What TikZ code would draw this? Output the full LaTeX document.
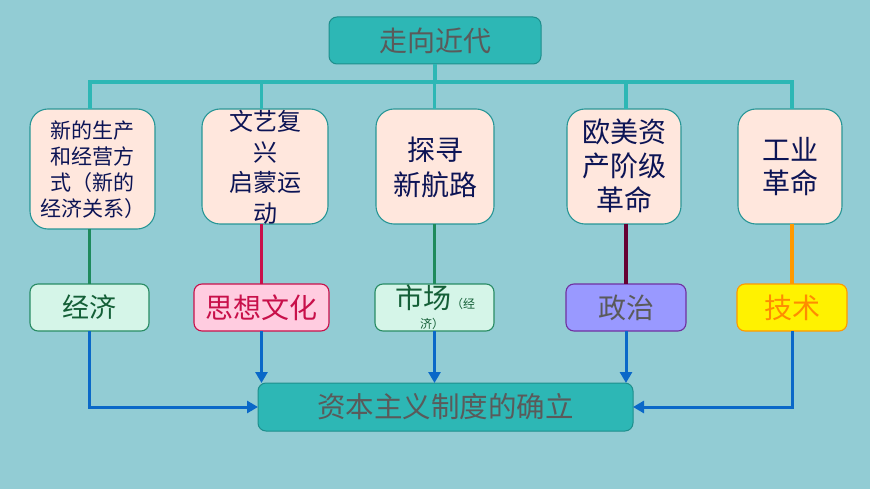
\documentclass[tikz,border=0pt]{standalone}
\usepackage{fontspec}
\setmainfont{Noto Sans CJK SC}
\usetikzlibrary{arrows.meta,calc}
\definecolor{bg}{RGB}{146,204,212}
\definecolor{tealfill}{RGB}{45,183,181}
\definecolor{tealborder}{RGB}{30,142,140}
\definecolor{peach}{RGB}{255,231,221}
\definecolor{peachborder}{RGB}{40,150,150}
\definecolor{navy}{RGB}{12,20,85}
\definecolor{graytext}{RGB}{90,90,90}
\definecolor{mgreenfill}{RGB}{213,245,232}
\definecolor{mgreenborder}{RGB}{40,140,100}
\definecolor{mgreentext}{RGB}{20,95,55}
\definecolor{linkgreen}{RGB}{30,138,92}
\definecolor{pinkfill}{RGB}{255,204,224}
\definecolor{crimson}{RGB}{200,16,74}
\definecolor{violetfill}{RGB}{153,153,255}
\definecolor{violetborder}{RGB}{112,48,160}
\definecolor{maroon}{RGB}{102,0,51}
\definecolor{orangeline}{RGB}{255,153,0}
\definecolor{orangetext}{RGB}{255,140,0}
\definecolor{arrblue}{RGB}{10,104,200}
\newcommand{\fsz}[2]{\fontsize{#1pt}{#2pt}\selectfont}
\begin{document}
\begin{tikzpicture}[x=1pt,y=-1pt,
  every node/.style={inner sep=0pt, outer sep=0pt},
  tealbox/.style={draw=tealborder, fill=tealfill, rounded corners=8pt, line width=1pt, text=graytext},
  ubox/.style={draw=peachborder, fill=peach, rounded corners=18pt, line width=1.1pt, minimum height=115pt},
  utext/.style={text=navy, align=center},
  mbox/.style={rounded corners=8pt, line width=1.1pt, minimum height=47pt},
  busline/.style={draw=tealfill, line width=4pt},
  drop/.style={draw=tealfill, line width=3.5pt},
  link/.style={line width=3.3pt},
  arr/.style={draw=arrblue, line width=3pt, -{Triangle[width=12pt,length=11pt]}},
]
\fill[bg] (0,0) rectangle (870,489);
\useasboundingbox (0,0) rectangle (870,489);

% top and bottom
\node[tealbox, minimum width=212pt, minimum height=47pt, font=\fsz{28}{34}] (top) at (435,40.5) {走向近代};
\node[tealbox, minimum width=375pt, minimum height=48pt, font=\fsz{28.5}{34}] (bot) at (445.5,407) {资本主义制度的确立};

% upper boxes
\node[ubox, minimum width=125pt, minimum height=120pt] (b1) at (92.5,169) {};
\node[ubox, minimum width=126pt] (b2) at (265,166.5) {};
\node[ubox, minimum width=118pt] (b3) at (435,166.5) {};
\node[ubox, minimum width=114pt] (b4) at (624,166.5) {};
\node[ubox, minimum width=104pt] (b5) at (790,166.5) {};

\node[utext, font=\fsz{21}{26}] (b1t) at (92.5,169.5) {新的生产\\和经营方\\式（新的\\经济关系）};
\node[utext, font=\fsz{24}{30.5}] (b2t) at (265,167.5) {文艺复\\兴\\启蒙运\\动};
\node[utext, font=\fsz{28}{35}] (b3t) at (435,167) {探寻\\新航路};
\node[utext, font=\fsz{28}{34}] (b4t) at (624,166) {欧美资\\产阶级\\革命};
\node[utext, font=\fsz{28}{33}] (b5t) at (790,166.5) {工业\\革命};

% middle boxes
\node[mbox, draw=mgreenborder, fill=mgreenfill, text=mgreentext, minimum width=119pt, font=\fsz{27}{32}] (m1) at (89.5,307.5) {经济};
\node[mbox, draw=crimson, fill=pinkfill, text=crimson, minimum width=135pt, font=\fsz{28}{32}] (m2) at (261.5,307.5) {思想文化};
\node[mbox, draw=mgreenborder, fill=mgreenfill, minimum width=119pt] (m3) at (434.5,307.5) {};
\node[text=mgreentext, font=\fsz{28}{32}] (m3a) at (435,298) {市场{\fsz{12}{14}（经}};
\node[text=mgreentext, font=\fsz{12}{14}] (m3b) at (432,324) {济）};
\node[mbox, draw=violetborder, fill=violetfill, text=graytext, minimum width=120pt, font=\fsz{28}{32}] (m4) at (626,307.5) {政治};
\node[mbox, draw=orangeline, fill=yellow, text=orangetext, minimum width=110pt, font=\fsz{28}{32}] (m5) at (792,307.5) {技术};

% bus
\coordinate (bus) at (435,82);
\draw[busline] (top.south) -- (bus);
\draw[busline] (m1.north |- b1.north) -- (m1.north |- bus) -- (m5.north |- bus) -- (m5.north |- b5.north);
\draw[drop] (m2.north |- bus) -- (m2.north |- b2.north);
\draw[drop] (m3.north |- bus) -- (m3.north |- b3.north);
\draw[drop] (m4.north |- bus) -- (m4.north |- b4.north);

% coloured links
\draw[link, draw=linkgreen] (m1.north |- b1.south) -- (m1.north);
\draw[link, draw=crimson] (m2.north |- b2.south) -- (m2.north);
\draw[link, draw=linkgreen] (m3.north |- b3.south) -- (m3.north);
\draw[link, draw=maroon] (m4.north |- b4.south) -- (m4.north);
\draw[link, draw=orangeline] (m5.north |- b5.south) -- (m5.north);

% blue arrows
\draw[arr] (m1.south) |- (bot.west);
\draw[arr] (m2.south) -- (m2.south |- bot.north);
\draw[arr] (m3.south) -- (m3.south |- bot.north);
\draw[arr] (m4.south) -- (m4.south |- bot.north);
\draw[arr] (m5.south) |- (bot.east);
\end{tikzpicture}
\end{document}
